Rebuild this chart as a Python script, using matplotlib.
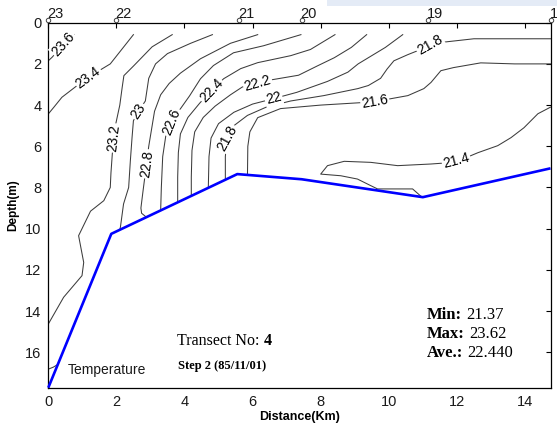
import numpy as np
import matplotlib
matplotlib.use("Agg")
import matplotlib.pyplot as plt
from matplotlib import transforms
from matplotlib.patches import Rectangle

# ---------------- values ----------------
x_ticks = [0, 2, 4, 6, 8, 10, 12, 14]
depth_ticks = [0, 2, 4, 6, 8, 10, 12, 14, 16]
x_limit = 14.75
depth_limit = 17.72

station_names = ["23", "22", "21", "20", "19", "18"]
station_km = [0.0, 2.0, 5.6, 7.44, 11.15, 14.75]

bottom_km = [0.0, 1.85, 5.55, 7.44, 11.0, 14.75]
bottom_depth = [17.72, 10.25, 7.35, 7.6, 8.47, 7.07]

iso_236_km = [0.0, 0.11, 0.45, 0.76]
iso_236_depth = [1.85, 1.68, 1.05, 0.58]

iso_234_km = [0.0, 0.16, 0.4, 0.84, 1.2, 1.82, 2.5]
iso_234_depth = [4.43, 4.11, 3.62, 3.06, 2.62, 2.0, 0.58]

iso_232_km = [3.64, 3.05, 2.51, 2.22, 2.17, 2.1, 1.97, 1.88, 1.84, 1.82, 1.63,
              1.24, 0.89, 1.04, 0.99, 0.45, 0.0]
iso_232_depth = [0.58, 1.17, 2.09, 2.57, 3.14, 4.0, 5.0, 6.37, 7.3, 8.0, 8.64,
                 9.15, 10.34, 11.64, 12.28, 13.33, 14.63]

iso_230_km = [4.82, 4.18, 3.5, 3.15, 2.95, 2.85, 2.65, 2.5, 2.46, 2.41, 2.36,
              2.21, 2.12, 2.1]
iso_230_depth = [0.58, 1.0, 1.5, 2.0, 2.7, 3.8, 4.3, 4.76, 5.57, 6.7, 8.0,
                 8.8, 9.9, 10.06]

iso_230b_km = [0.0, 0.15, 0.28]
iso_230b_depth = [16.82, 16.72, 16.59]

iso_228_km = [6.15, 5.35, 4.47, 3.88, 3.55, 3.3, 3.12, 3.05, 2.95, 2.85, 2.78,
              2.72, 2.74, 2.88]
iso_228_depth = [0.58, 1.0, 1.75, 2.45, 2.95, 3.5, 4.3, 5.0, 6.0, 7.3, 8.2,
                 9.0, 9.25, 9.44]

iso_226_km = [7.42, 6.32, 5.44, 4.85, 4.47, 4.15, 3.85, 3.62, 3.45, 3.36, 3.32, 3.3]
iso_226_depth = [0.58, 1.12, 1.46, 2.08, 2.72, 3.55, 4.25, 4.8, 5.5, 6.5, 8.0, 9.12]

iso_224_km = [8.42, 7.7, 7.12, 6.15, 5.65, 5.15, 4.85, 4.45, 4.1, 3.88, 3.82,
              3.8, 3.8]
iso_224_depth = [0.58, 1.3, 1.6, 1.94, 2.23, 2.72, 3.2, 3.9, 4.6, 5.4, 6.3,
                 7.5, 8.7]

iso_222_km = [9.35, 8.9, 8.4, 7.9, 7.35, 6.53, 6.15, 5.7, 5.35, 4.9, 4.55,
              4.3, 4.22, 4.2, 4.2]
iso_222_depth = [0.58, 1.2, 1.7, 2.1, 2.55, 2.78, 2.96, 3.12, 3.5, 4.05, 4.6,
                 5.3, 6.2, 7.5, 8.38]

iso_220_km = [10.41, 9.9, 9.5, 9.1, 8.8, 8.2, 7.3, 6.7, 6.0, 5.45, 5.0, 4.78,
              4.72, 4.7]
iso_220_depth = [0.58, 1.2, 1.6, 2.0, 2.4, 2.85, 3.38, 3.65, 3.95, 4.35, 4.9,
                 5.6, 6.5, 7.98]

iso_218_km = [14.75, 12.5, 11.74, 11.24, 10.94, 10.56, 10.15, 9.95, 9.76, 9.4,
              9.09, 8.09, 7.12, 6.4, 5.85, 5.45, 5.25, 5.2, 5.2]
iso_218_depth = [0.78, 0.78, 0.92, 1.02, 1.3, 1.55, 1.85, 2.25, 2.7, 3.05,
                 3.2, 3.54, 3.8, 4.1, 4.5, 5.0, 5.6, 6.5, 7.62]

iso_216_km = [14.75, 13.7, 12.7, 11.9, 11.53, 11.24, 11.03, 10.56, 10.06, 9.5,
              8.0, 6.82, 6.15, 5.92, 5.86, 5.85]
iso_216_depth = [2.0, 2.0, 1.95, 2.18, 2.33, 2.9, 3.2, 3.54, 3.69, 3.85,
                 4.0, 4.17, 4.61, 5.3, 6.0, 7.35]

iso_214_km = [14.75, 14.38, 13.97, 13.59, 13.2, 12.62, 12.2, 11.74, 11.24,
              10.26, 9.47, 8.69, 8.2, 8.0, 8.59, 9.08, 9.47, 9.67, 10.7, 10.94]
iso_214_depth = [4.1, 4.42, 5.1, 5.58, 5.97, 6.31, 6.6, 6.8, 6.86,
                 6.94, 6.78, 6.73, 6.94, 7.35, 7.43, 7.59, 7.91, 8.07, 8.07, 8.42]

stat_min = 21.37
stat_max = 23.62
stat_ave = "22.440"
transect_no = 4
step_text = "Step 2 (85/11/01)"

# ---------------- figure ----------------
W, H = 557, 428
fig = plt.figure(figsize=(W / 100, H / 100), dpi=100)
L, R, T, B = 48.3, 550.5, 22.7, 387.7
ax = fig.add_axes([L / W, 1 - B / H, (R - L) / W, (B - T) / H])
ax.set_xlim(0, x_limit)
ax.set_ylim(depth_limit, 0)

sans = "Liberation Sans"
serif = "Liberation Serif"

# faint watermark band at the very top
fig.patches.append(Rectangle((327 / W, 1 - 6 / H), (W - 327) / W, 6 / H,
                             transform=fig.transFigure, facecolor="#e4ebf6",
                             edgecolor="none", zorder=0))

lines = [
    (23.6, iso_236_km, iso_236_depth),
    (23.4, iso_234_km, iso_234_depth),
    (23.2, iso_232_km, iso_232_depth),
    (23.0, iso_230_km, iso_230_depth),
    (23.0, iso_230b_km, iso_230b_depth),
    (22.8, iso_228_km, iso_228_depth),
    (22.6, iso_226_km, iso_226_depth),
    (22.4, iso_224_km, iso_224_depth),
    (22.2, iso_222_km, iso_222_depth),
    (22.0, iso_220_km, iso_220_depth),
    (21.8, iso_218_km, iso_218_depth),
    (21.6, iso_216_km, iso_216_depth),
    (21.4, iso_214_km, iso_214_depth),
]
for lev, xs, ds in lines:
    ax.plot(xs, ds, color="#3c3c3c", lw=0.75, zorder=2, solid_joinstyle="round")

# bottom profile
ax.plot(bottom_km, bottom_depth, color="#0000ff", lw=1.9, zorder=4,
        clip_on=False, solid_capstyle="butt")

# contour labels placed on the lines (inline, like clabel)
label_spots = [(23.6, 0.45, 1.05), (23.4, 1.15, 2.6), (23.2, 1.95, 5.6),
               (23.0, 2.65, 4.3), (22.8, 2.88, 6.85), (22.6, 3.58, 4.8),
               (22.4, 4.8, 3.3), (22.2, 6.15, 2.95), (22.0, 6.62, 3.69),
               (21.8, 5.25, 5.6), (21.8, 11.2, 1.05), (21.6, 9.6, 3.9),
               (21.4, 11.95, 6.5)]
main_line = {}
for lev, xs, ds in lines:
    main_line.setdefault(lev, (xs, ds))

for lev, lx, ld in label_spots:
    xs, ds = main_line[lev]
    pts = ax.transData.transform(np.column_stack([xs, ds]))
    p = ax.transData.transform((lx, ld))
    best = None
    for i in range(len(pts) - 1):
        a, b = pts[i], pts[i + 1]
        ab = b - a
        t = np.clip(np.dot(p - a, ab) / np.dot(ab, ab), 0, 1)
        q = a + t * ab
        dist = np.hypot(*(p - q))
        if best is None or dist < best[0]:
            best = (dist, q, ab)
    _, q, ab = best
    ang = np.degrees(np.arctan2(ab[1], ab[0]))
    if ang > 90:
        ang -= 180
    if ang <= -90:
        ang += 180
    qx, qy = ax.transData.inverted().transform(q)
    ax.text(qx, qy, "%g" % lev, rotation=ang, rotation_mode="anchor",
            ha="center", va="center", fontsize=10, family=sans, color="black",
            zorder=3, bbox=dict(boxstyle="square,pad=0.08", fc="white", ec="none"))

# axes styling
ax.set_xticks(x_ticks)
ax.set_yticks(depth_ticks)
ax.tick_params(axis="both", which="both", direction="in", length=0,
               labelsize=10.5, labelcolor="#1a1a1a", pad=5)
ax.tick_params(axis="x", top=True, length=3.5, width=0.8, bottom=False)
ax.tick_params(axis="y", right=True, length=3.5, width=0.8, left=False)
for lab in ax.get_xticklabels() + ax.get_yticklabels():
    lab.set_family(sans)
for s in ax.spines.values():
    s.set_linewidth(0.9)
    s.set_color("black")

ax.set_xlabel("Distance(Km)", fontsize=9, fontweight="bold", family=sans,
              va="center")
ax.xaxis.set_label_coords(0.5, (B - 417) / (B - T))
ax.set_ylabel("Depth(m)", fontsize=8.5, fontweight="bold", family=sans,
              va="center")
ax.yaxis.set_label_coords((13 - L) / (R - L), 0.5)

# station labels on top
top_tr = transforms.blended_transform_factory(ax.transData, ax.transAxes)
txt_tr = transforms.offset_copy(top_tr, fig=fig, x=-1, y=1.5, units="dots")
mk_tr = transforms.offset_copy(top_tr, fig=fig, x=0, y=2.5, units="dots")
for name, sx in zip(station_names, station_km):
    ax.text(sx, 1.0, name, transform=txt_tr, ha="left", va="bottom",
            fontsize=10.5, family=sans, color="#1a1a1a", clip_on=False)
ax.plot(station_km, [1.0] * len(station_km), transform=mk_tr, ls="none",
        marker="o", ms=3.2, mfc="white", mec="#404040", mew=0.7,
        clip_on=False, zorder=6)


def axp(px, py):
    return ((px - L) / (R - L), (B - py) / (B - T))


renderer = fig.canvas.get_renderer()


def head_value(px, py, head, value, size, head_bold=True):
    t = ax.text(*axp(px, py), head, transform=ax.transAxes, ha="left",
                va="center", fontsize=size, family=serif,
                fontweight="bold" if head_bold else "normal")
    bb = t.get_window_extent(renderer=renderer)
    x_disp = bb.x1 + size * 0.25 * 100 / 72
    x_ax = ax.transAxes.inverted().transform((x_disp, 0))[0]
    ax.text(x_ax, axp(px, py)[1], value, transform=ax.transAxes, ha="left",
            va="center", fontsize=size, family=serif,
            fontweight="normal" if head_bold else "bold")


ax.text(*axp(68, 370), "Temperature", transform=ax.transAxes, ha="left",
        va="center", fontsize=10, family=sans, color="#1a1a1a")
head_value(177, 341, "Transect No:", str(transect_no), 11.5, head_bold=False)
ax.text(*axp(178, 366), step_text, transform=ax.transAxes, ha="left",
        va="center", fontsize=9, family=serif, fontweight="bold")

head_value(427, 315, "Min:", "%.2f" % stat_min, 12)
head_value(427, 334, "Max:", "%.2f" % stat_max, 12)
head_value(427, 353, "Ave.:", stat_ave, 12)

fig.savefig("out.png", dpi=100)
